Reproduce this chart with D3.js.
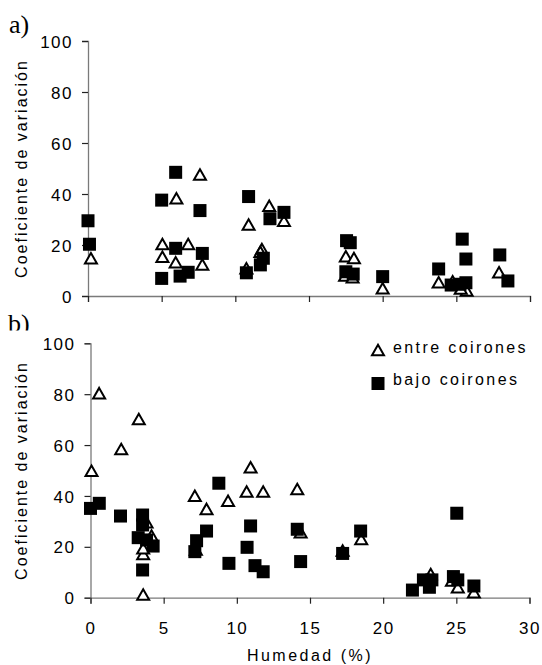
<!DOCTYPE html>
<html>
<head>
<meta charset="utf-8">
<script src="https://cdn.jsdelivr.net/npm/d3@7"></script>
<style>
  body { margin: 0; background: #fff; }
  text { font-family: "Liberation Sans", Arial, sans-serif; fill: #000; }
</style>
</head>
<body>
<script>
// Humedad (%) vs Coeficiente de variacion, panel a) and b)
var xTicks = [0, 5, 10, 15, 20, 25, 30];
var yTicks = [0, 20, 40, 60, 80, 100];
var seriesNames = ["entre coirones", "bajo coirones"];

// panel a) - entre coirones (triangles)
var aEntre = [[0.2, 14.4], [5.05, 20], [5.05, 15], [6.0, 37.9], [5.95, 12.8], [6.8, 20],
  [7.6, 47.2], [7.76, 11.9], [10.9, 27.6], [10.75, 10.5], [11.8, 18], [11.7, 16.9],
  [12.3, 35], [13.3, 29.1], [17.5, 15.2], [18.05, 14.5], [17.45, 7.6], [17.96, 6.9],
  [20.0, 2.6], [23.8, 5], [24.75, 5.4], [25.7, 1.7], [25.3, 2.5], [27.9, 8.9]];
// panel a) - bajo coirones (squares)
var aBajo = [[0, 29.5], [0.1, 20.3], [5.0, 37.6], [5.95, 48.5], [7.6, 33.5], [5.95, 18.7],
  [7.76, 16.7], [5.0, 6.9], [6.25, 7.8], [6.8, 9.3], [10.9, 39], [10.75, 9.1],
  [11.7, 12.2], [11.9, 14.8], [12.35, 30.3], [13.3, 32.8], [17.55, 21.7], [17.8, 20.9],
  [17.5, 9.5], [18.0, 8.6], [20.0, 7.6], [23.8, 10.6], [24.65, 4.3], [25.25, 4.6],
  [25.65, 5.2], [25.4, 22.3], [25.65, 14.5], [27.95, 16.1], [28.5, 5.9]];

// panel b) - entre coirones
var bEntre = [[0.07, 49.5], [0.59, 80], [2.1, 58], [3.3, 69.8], [3.6, 0.8], [3.6, 16.8],
  [3.6, 19], [3.83, 29.2], [4.17, 24], [7.13, 39.7], [7.93, 34.5], [9.4, 37.7],
  [10.94, 50.9], [10.67, 41.3], [11.8, 41.3], [7.2, 18.5], [14.13, 42.3], [14.36, 25.3],
  [17.23, 18.1], [18.5, 22.7], [23.25, 8.9], [24.7, 6.3], [25.1, 3.7], [26.2, 1.7]];
// panel b) - bajo coirones
var bBajo = [[0, 35.1], [0.6, 37.1], [2.05, 32.1], [3.56, 32.5], [3.56, 28.6], [3.26, 23.6],
  [3.83, 22.7], [4.28, 20.3], [3.56, 10.9], [7.13, 18.1], [7.25, 22.4], [7.93, 26.2],
  [8.77, 45], [9.46, 13.5], [10.94, 28.2], [10.7, 19.8], [11.24, 12.6], [11.8, 10.2],
  [14.13, 26.9], [14.36, 14.2], [17.23, 17.4], [18.46, 26.2], [22.0, 3], [22.75, 7],
  [23.16, 4.1], [23.33, 7], [24.8, 8.3], [25.1, 7], [25.03, 33.2], [26.2, 4.6]];

var width = 542, height = 665;

var svg = d3.select("body").append("svg")
  .attr("width", width)
  .attr("height", height);

svg.append("defs").append("clipPath").attr("id", "clipB")
  .append("rect").attr("x", 0).attr("y", 300).attr("width", 80).attr("height", 30.5);

var sq = 13;
function triPath(cx, cy) {
  var w = 12, h = 10.5;
  return "M" + cx + "," + (cy - h * 0.6) + "L" + (cx + w / 2) + "," + (cy + h * 0.4) +
    "L" + (cx - w / 2) + "," + (cy + h * 0.4) + "Z";
}

function panel(opts) {
  var x = d3.scaleLinear().domain([0, 30]).range(opts.xr);
  var y = d3.scaleLinear().domain([0, 100]).range(opts.yr);
  var g = svg.append("g");

  // y axis
  var ya = g.append("g")
    .attr("transform", "translate(" + opts.xr[0] + ",0)")
    .call(d3.axisLeft(y).tickValues(yTicks).tickSize(6).tickPadding(9));
  ya.select(".domain").attr("stroke", "#7a7a7a").attr("stroke-width", 1.3);
  ya.selectAll(".tick line").attr("stroke", "#222").attr("stroke-width", 1.2);
  ya.selectAll(".tick text")
    .style("font-family", "'Liberation Sans', Arial, sans-serif")
    .style("font-size", "17px").style("letter-spacing", "1.5px").attr("fill", "#000")
    .attr("dy", "0.36em");

  // x axis
  var xa = g.append("g")
    .attr("transform", "translate(0," + opts.yr[0] + ")")
    .call(d3.axisBottom(x).tickValues(xTicks).tickSize(6).tickPadding(18)
      .tickFormat(opts.xLabels ? d3.format("d") : function() { return ""; }));
  xa.select(".domain").attr("stroke", "#7a7a7a").attr("stroke-width", 1.3);
  xa.selectAll(".tick line").attr("stroke", "#222").attr("stroke-width", 1.2);
  xa.selectAll(".tick text")
    .style("font-family", "'Liberation Sans', Arial, sans-serif")
    .style("font-size", "17px").style("letter-spacing", "1.5px").attr("fill", "#000");

  // y title
  g.append("text")
    .attr("transform", "translate(27," + (opts.yr[0] + opts.yr[1]) / 2 + ") rotate(-90)")
    .attr("text-anchor", "middle")
    .style("font-size", "16px").style("letter-spacing", "2px")
    .text("Coeficiente de variación");

  // triangles first, squares on top
  g.selectAll(".tri").data(opts.entre).enter().append("path")
    .attr("class", "tri")
    .attr("d", function(d) { return triPath(x(d[0]), y(d[1])); })
    .attr("fill", "#fff").attr("stroke", "#000").attr("stroke-width", 2)
    .attr("stroke-linejoin", "miter");

  g.selectAll(".sq").data(opts.bajo).enter().append("rect")
    .attr("class", "sq")
    .attr("x", function(d) { return x(d[0]) - sq / 2; })
    .attr("y", function(d) { return y(d[1]) - sq / 2; })
    .attr("width", sq).attr("height", sq)
    .attr("fill", "#000");

  return { x: x, y: y };
}

var pa = panel({ xr: [88, 530], yr: [296, 41], entre: aEntre, bajo: aBajo, xLabels: false });
var pb = panel({ xr: [90.5, 529.5], yr: [597.7, 343.3], entre: bEntre, bajo: bBajo, xLabels: true });

// x title
svg.append("text")
  .attr("x", 310).attr("y", 661)
  .attr("text-anchor", "middle")
  .style("font-size", "16px").style("letter-spacing", "2.5px")
  .text("Humedad (%)");

// panel letters
svg.append("text").attr("x", 9).attr("y", 33)
  .style("font-family", "'Liberation Serif', 'Times New Roman', serif")
  .style("font-size", "26px").text("a)");
svg.append("text").attr("x", 8).attr("y", 332)
  .attr("clip-path", "url(#clipB)")
  .style("font-family", "'Liberation Serif', 'Times New Roman', serif")
  .style("font-size", "26px").text("b)");

// legend
var legend = svg.append("g").attr("transform", "translate(378,0)");
legend.append("path").attr("d", triPath(0, 351))
  .attr("fill", "#fff").attr("stroke", "#000").attr("stroke-width", 2);
legend.append("rect").attr("x", -6.5).attr("y", 377).attr("width", sq).attr("height", sq)
  .attr("fill", "#000");
legend.selectAll(".ltxt").data(seriesNames).enter().append("text")
  .attr("class", "ltxt")
  .attr("x", 15)
  .attr("y", function(d, i) { return 353 + i * 32; })
  .style("font-size", "16px").style("letter-spacing", "2.4px")
  .text(function(d) { return d; });
</script>
</body>
</html>
